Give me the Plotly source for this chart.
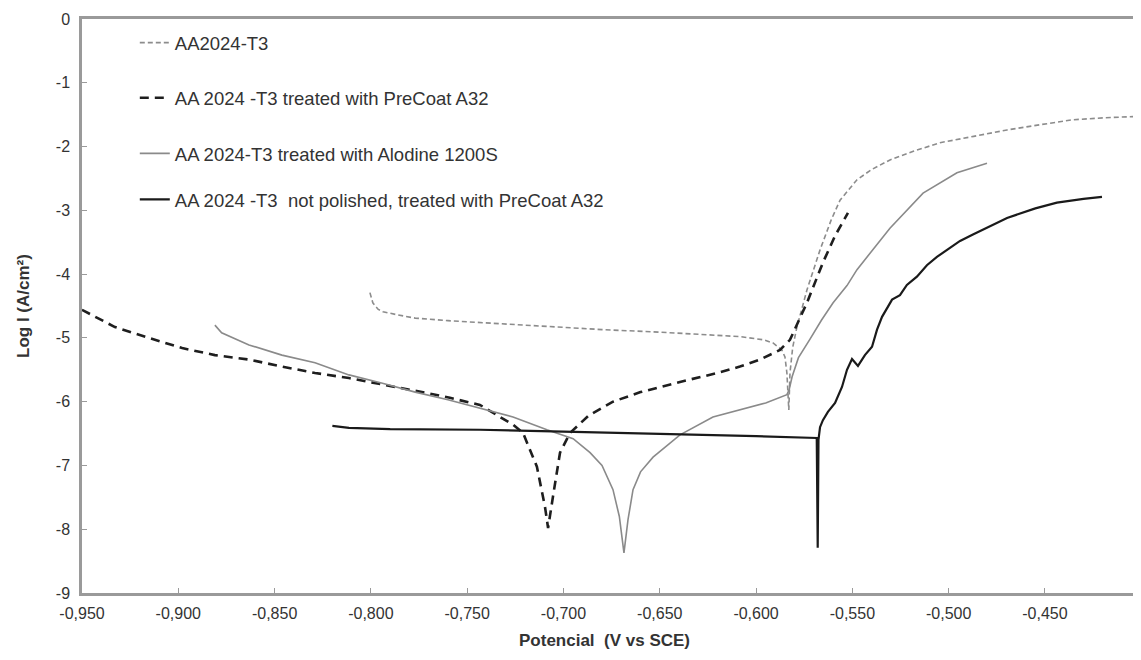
import plotly.graph_objects as go

# ---------------- data ----------------
names = [
    "AA2024-T3",
    "AA 2024 -T3 treated with PreCoat A32",
    "AA 2024-T3 treated with Alodine 1200S",
    "AA 2024 -T3  not polished, treated with PreCoat A32",
]

bare_x = [-0.8005, -0.7990, -0.7963, -0.7937, -0.7860, -0.7770, -0.7600, -0.7430, -0.7200,
          -0.7000, -0.6800, -0.6500, -0.6300, -0.6084, -0.5960, -0.5912, -0.5866, -0.5850,
          -0.5840, -0.5830, -0.5824, -0.5810, -0.5788, -0.5736, -0.5668, -0.5610, -0.5564,
          -0.5476, -0.5400, -0.5305, -0.5180, -0.5045, -0.4870, -0.4697, -0.4530, -0.4355,
          -0.4200, -0.4043]
bare_y = [-4.29, -4.45, -4.55, -4.59, -4.64, -4.69, -4.73, -4.76, -4.80,
          -4.84, -4.87, -4.91, -4.94, -4.98, -5.03, -5.08, -5.19, -5.30,
          -5.55, -6.13, -5.55, -5.15, -4.83, -4.25, -3.62, -3.15, -2.84,
          -2.52, -2.36, -2.21, -2.07, -1.94, -1.84, -1.74, -1.66, -1.58,
          -1.55, -1.53]

precoat_x = [-0.950, -0.9329, -0.9152, -0.8980, -0.8810, -0.8633, -0.8462, -0.8290, -0.8114,
             -0.7900, -0.7700, -0.7590, -0.7434, -0.7330, -0.7262, -0.7210, -0.7138, -0.7096,
             -0.7080, -0.7050, -0.7018, -0.6966, -0.6870, -0.6743, -0.6600, -0.6395, -0.6200,
             -0.6084, -0.5980, -0.5876, -0.5824, -0.5736, -0.5653, -0.5590, -0.5523]
precoat_y = [-4.56, -4.83, -5.00, -5.16, -5.27, -5.34, -5.45, -5.55, -5.63,
             -5.75, -5.87, -5.94, -6.05, -6.24, -6.36, -6.49, -7.02, -7.65,
             -7.98, -7.40, -6.80, -6.49, -6.22, -6.00, -5.85, -5.69, -5.55,
             -5.45, -5.34, -5.19, -5.03, -4.45, -3.82, -3.40, -3.04]

alodine_x = [-0.8810, -0.8775, -0.8633, -0.8462, -0.8290, -0.8114, -0.7940, -0.7770, -0.7600,
             -0.7434, -0.7262, -0.7086, -0.6950, -0.6862, -0.6800, -0.6743, -0.6710, -0.6686,
             -0.6665, -0.6639, -0.6600, -0.6535, -0.6395, -0.6224, -0.6084, -0.5950, -0.5840,
             -0.5829, -0.5813, -0.5780, -0.5720, -0.5660, -0.5600, -0.5528, -0.5476, -0.5409,
             -0.5305, -0.5133, -0.4957, -0.4801]
alodine_y = [-4.80, -4.92, -5.11, -5.27, -5.39, -5.58, -5.71, -5.85, -5.97,
             -6.10, -6.24, -6.44, -6.58, -6.80, -7.00, -7.38, -7.80, -8.37,
             -7.85, -7.38, -7.10, -6.87, -6.52, -6.24, -6.13, -6.02, -5.89,
             -5.82, -5.61, -5.31, -5.02, -4.72, -4.45, -4.18, -3.93, -3.67,
             -3.28, -2.73, -2.41, -2.26]

unpol_x = [-0.8200, -0.8114, -0.7900, -0.7434, -0.7000, -0.6500, -0.6000, -0.5685, -0.5680,
           -0.5676, -0.5668, -0.5653, -0.5627, -0.5590, -0.5554, -0.5528, -0.5502, -0.5471,
           -0.5435, -0.5398, -0.5372, -0.5346, -0.5294, -0.5253, -0.5217, -0.5165, -0.5113,
           -0.5061, -0.4993, -0.4941, -0.4874, -0.4697, -0.4550, -0.4438, -0.4300, -0.4204]
unpol_y = [-6.38, -6.41, -6.43, -6.44, -6.47, -6.50, -6.54, -6.57, -8.29,
           -6.60, -6.40, -6.29, -6.16, -6.02, -5.77, -5.50, -5.33, -5.44,
           -5.27, -5.14, -4.87, -4.67, -4.40, -4.33, -4.17, -4.04, -3.86,
           -3.73, -3.59, -3.48, -3.38, -3.12, -2.97, -2.88, -2.82, -2.79]

x_ticks = [-0.95, -0.90, -0.85, -0.80, -0.75, -0.70, -0.65, -0.60, -0.55, -0.50, -0.45]
x_tick_text = ["-0,950", "-0,900", "-0,850", "-0,800", "-0,750", "-0,700",
               "-0,650", "-0,600", "-0,550", "-0,500", "-0,450"]
y_ticks = [0, -1, -2, -3, -4, -5, -6, -7, -8, -9]
y_tick_text = ["0", "-1", "-2", "-3", "-4", "-5", "-6", "-7", "-8", "-9"]

x_title = "Potencial  (V vs SCE)"
y_title = "Log I (A/cm²)"

# ---------------- styles ----------------
series = [
    (bare_x, bare_y, dict(color="#8c8c8c", width=1.6, dash="5px,3px")),
    (precoat_x, precoat_y, dict(color="#1e1e1e", width=2.6, dash="9px,6px")),
    (alodine_x, alodine_y, dict(color="#8a8a8a", width=1.6)),
    (unpol_x, unpol_y, dict(color="#1a1a1a", width=2.2)),
]
legend_ys = [0.958, 0.862, 0.765, 0.685]
legend_keys = ["legend", "legend2", "legend3", "legend4"]

FONT = "Liberation Sans, Arial, sans-serif"
AXC = "#9a9a9a"

fig = go.Figure()
for i, (xs, ys, ln) in enumerate(series):
    fig.add_trace(go.Scatter(x=xs, y=ys, mode="lines", name=names[i], line=ln,
                             legend=legend_keys[i]))

legend_layout = {}
for key, ly in zip(legend_keys, legend_ys):
    legend_layout[key] = dict(x=0.050, y=ly, xanchor="left", yanchor="middle",
                              font=dict(family=FONT, size=18.5, color="#333"),
                              itemwidth=30, bgcolor="rgba(0,0,0,0)", borderwidth=0)

axis_common = dict(showgrid=False, zeroline=False, showline=True, linecolor=AXC,
                   linewidth=2.5, ticks="inside", ticklen=5, tickcolor=AXC,
                   tickwidth=1, tickfont=dict(family=FONT, size=16, color="#333"),
                   automargin=False)

# the page body has an 8px margin, so the margins below compensate for it
fig.update_layout(
    width=1141, height=660,
    margin=dict(l=74, r=11, t=11, b=75),
    paper_bgcolor="white", plot_bgcolor="white",
    font=dict(family=FONT, color="#333"),
    showlegend=True,
    xaxis=dict(range=[-0.95, -0.4017], tickvals=x_ticks, ticktext=x_tick_text,
               mirror=True, ticklabelstandoff=4, **axis_common),
    yaxis=dict(range=[-9, 0], tickvals=y_ticks, ticktext=y_tick_text,
               mirror=False, ticklabelstandoff=6, **axis_common),
    shapes=[dict(type="line", xref="paper", yref="paper", x0=1, x1=1, y0=0, y1=1,
                 line=dict(color="#cfcfcf", width=1.2))],
    annotations=[
        dict(text=f"<b>{x_title}</b>", xref="paper", yref="paper", x=0.495, y=0,
             yshift=-47, xanchor="center", yanchor="middle", showarrow=False,
             font=dict(family=FONT, size=17, color="#333")),
        dict(text=f"<b>{y_title}</b>", xref="paper", yref="paper", x=0, y=0.5,
             xshift=-59, xanchor="center", yanchor="middle", textangle=-90,
             showarrow=False, font=dict(family=FONT, size=17, color="#333")),
    ],
    **legend_layout,
)

fig.write_html("out.html")
